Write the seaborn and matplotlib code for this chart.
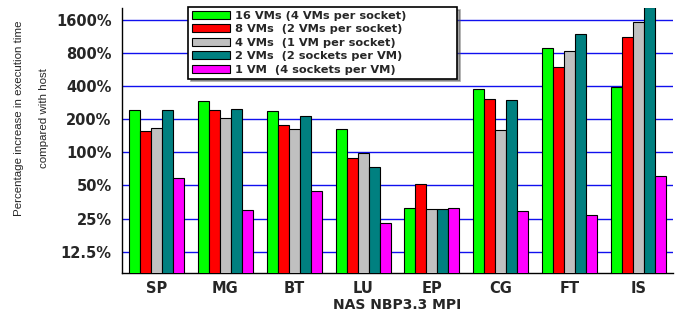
import numpy as np
import pandas as pd
import matplotlib
matplotlib.use('Agg')
import matplotlib.pyplot as plt
import matplotlib.ticker as mticker
from matplotlib import font_manager as fm
import seaborn as sns

benchmarks = ['SP', 'MG', 'BT', 'LU', 'EP', 'CG', 'FT', 'IS']
configs = ['16 VMs (4 VMs per socket)',
           '8 VMs  (2 VMs per socket)',
           '4 VMs  (1 VM per socket)',
           '2 VMs  (2 sockets per VM)',
           '1 VM  (4 sockets per VM)']

# percentage increase in execution time vs host, one list per config
vm16 = [242, 294, 237, 164, 31.5, 376, 888, 389]
vm8 = [155, 241, 176, 89, 52, 304, 592, 1112]
vm4 = [168, 204, 164, 98, 30.5, 160, 829, 1525]
vm2 = [242, 247, 216, 73, 30.5, 299, 1200, 2100]
vm1 = [58, 29.6, 44.4, 22.8, 31, 29, 27, 61]

colors = ['#00ff00', '#ff0000', '#c0c0c0', '#008080', '#ff00ff']
yticks = [12.5, 25, 50, 100, 200, 400, 800, 1600]

df = pd.DataFrame({
    'bench': benchmarks * 5,
    'config': [c for c in configs for _ in benchmarks],
    'value': vm16 + vm8 + vm4 + vm2 + vm1,
})


def has_font(name):
    try:
        fm.findfont(fm.FontProperties(family=name), fallback_to_default=False)
        return True
    except ValueError:
        return False


narrow = next((f for f in ['Liberation Sans Narrow', 'Liberation Sans',
                           'Roboto'] if has_font(f)), 'DejaVu Sans')

sns.set_style('white')
fig = plt.figure(figsize=(6.87, 3.24), dpi=100)
ax = fig.add_axes([0.1776, 0.1574, 0.8020, 0.8179])

sns.barplot(data=df, x='bench', y='value', hue='config', palette=colors,
            width=0.8, gap=0, edgecolor='black', linewidth=0.8,
            saturation=1, ax=ax, zorder=3)

ax.set_yscale('log', base=2)
ax.set_ylim(8, 2050)
ax.set_xlim(-0.5, 7.5)
ax.yaxis.set_major_locator(mticker.FixedLocator(yticks))
ax.yaxis.set_major_formatter(mticker.FuncFormatter(lambda v, p: f'{v:g}%'))
minor = [t * (1 + i / 10) for t in [3.125, 6.25] + yticks for i in range(1, 10)]
ax.yaxis.set_minor_locator(mticker.FixedLocator(minor))
ax.yaxis.set_minor_formatter(mticker.NullFormatter())
ax.xaxis.set_minor_locator(mticker.FixedLocator(np.arange(-0.5, 8, 1)))

ax.yaxis.grid(True, which='major', color='#1010ee', linewidth=1.0, zorder=0)
ax.set_axisbelow(True)

for s in ['top', 'right']:
    ax.spines[s].set_visible(False)
for s in ['left', 'bottom']:
    ax.spines[s].set_color('black')
    ax.spines[s].set_linewidth(1.0)

ax.tick_params(axis='y', which='major', direction='inout', length=7, width=1,
               labelsize=10.5, pad=4)
ax.tick_params(axis='y', which='minor', direction='out', length=3, width=0.6)
ax.tick_params(axis='x', which='major', direction='out', length=4, width=1,
               labelsize=10.5, pad=2)
ax.tick_params(axis='x', which='minor', direction='out', length=3, width=1)
for lab in ax.get_xticklabels() + ax.get_yticklabels():
    lab.set_fontweight('bold')

ax.set_xlabel('NAS NBP3.3 MPI', fontsize=10, fontweight='bold', labelpad=1)
ylab = ax.set_ylabel('Percentage increase in execution time\ncompared with host',
                     fontsize=9, family=narrow, linespacing=2.9)
ax.yaxis.set_label_coords(-0.133, 0.585)

# keep the long label inside the figure
fig.canvas.draw()
h = ylab.get_window_extent(fig.canvas.get_renderer()).height
if h > 195:
    ylab.set_fontsize(9 * 195 / h)

leg = ax.legend(loc='upper left',
                bbox_to_anchor=(188 / 687, 1 - 77 / 324, 269 / 687, 70 / 324),
                bbox_transform=fig.transFigure, borderaxespad=0, mode='expand',
                prop={'size': 8.2, 'weight': 'bold'}, handlelength=3.3,
                handleheight=0.7, handletextpad=0.45, labelspacing=0.3,
                frameon=True, fancybox=False, shadow=True,
                edgecolor='black', framealpha=1, borderpad=0.35)
leg.get_frame().set_linewidth(1.2)
leg.set_zorder(10)

fig.savefig('out.png', dpi=100)
